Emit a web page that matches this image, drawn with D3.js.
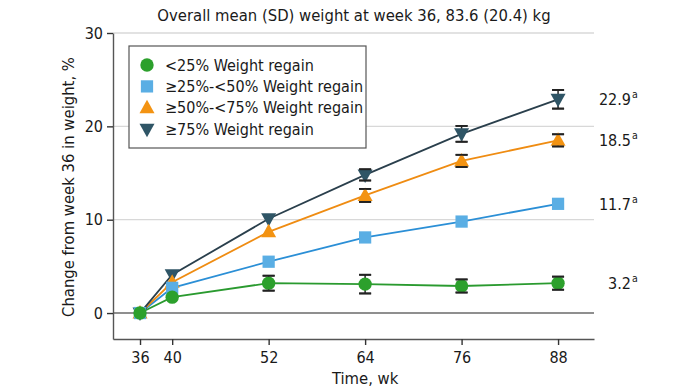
<!DOCTYPE html>
<html><head><meta charset="utf-8">
<script src="https://cdn.jsdelivr.net/npm/d3@7"></script>
<style>
body{margin:0;background:#fff;}
svg text{font-family:"Liberation Sans Narrow","DejaVu Sans Condensed","Roboto Condensed",sans-serif;fill:#1a1a1a;}
</style></head>
<body>
<svg id="c" width="689" height="388"></svg>
<script>
const weeks = [36, 40, 52, 64, 76, 88];
const xTicks = [36, 40, 52, 64, 76, 88];
const yTicks = [0, 10, 20, 30];
const seriesNames = ["<25% Weight regain", "≥25%-<50% Weight regain", "≥50%-<75% Weight regain", "≥75% Weight regain"];
const lt25 = [0, 1.7, 3.2, 3.1, 2.9, 3.2];
const lt25Err = [0, 0, 0.8, 1.0, 0.7, 0.7];
const r25to50 = [0, 2.7, 5.5, 8.1, 9.8, 11.7];
const r25to50Err = [0, 0, 0, 0, 0, 0];
const r50to75 = [0, 3.3, 8.7, 12.6, 16.3, 18.5];
const r50to75Err = [0, 0, 0, 0.7, 0.65, 0.65];
const ge75 = [0, 4.1, 10.1, 14.8, 19.2, 22.9];
const ge75Err = [0, 0, 0, 0.6, 0.85, 1.0];
const endLabels = ["3.2", "11.7", "18.5", "22.9"];
const title = "Overall mean (SD) weight at week 36, 83.6 (20.4) kg";
const xTitle = "Time, wk";
const yTitle = "Change from week 36 in weight, %";

const series = [
  {name: seriesNames[0], v: lt25, e: lt25Err, line: "#2a9a2f", fill: "#2ca02c", shape: "circle", label: endLabels[0]},
  {name: seriesNames[1], v: r25to50, e: r25to50Err, line: "#2b8fd6", fill: "#5aaee4", shape: "square", label: endLabels[1]},
  {name: seriesNames[2], v: r50to75, e: r50to75Err, line: "#ef8c12", fill: "#f39312", shape: "up", label: endLabels[2]},
  {name: seriesNames[3], v: ge75, e: ge75Err, line: "#2a3f4c", fill: "#2f5566", shape: "down", label: endLabels[3]}
];

const svg = d3.select("#c");
const x = d3.scaleLinear().domain([32.64, 92.47]).range([113, 594]);
const y = d3.scaleLinear().domain([-2.78, 30]).range([339, 33]);

// gridlines
svg.append("g").selectAll("line").data(yTicks.filter(d => d !== 0)).join("line")
  .attr("x1", x.range()[0]).attr("x2", x.range()[1])
  .attr("y1", d => y(d)).attr("y2", d => y(d))
  .attr("stroke", "#d8d8d8").attr("stroke-width", 1.3);
svg.append("line").attr("x1", x.range()[0]).attr("x2", x.range()[1])
  .attr("y1", y(0)).attr("y2", y(0)).attr("stroke", "#6a6a6a").attr("stroke-width", 1.4);

// axes
const xAxis = svg.append("g").attr("transform", `translate(0,${y.range()[0]})`)
  .call(d3.axisBottom(x).tickValues(xTicks).tickSize(6).tickPadding(4).tickSizeOuter(0));
const yAxis = svg.append("g").attr("transform", `translate(${x.range()[0]},0)`)
  .call(d3.axisLeft(y).tickValues(yTicks).tickSize(6).tickPadding(4).tickSizeOuter(0));
[xAxis, yAxis].forEach(a => {
  a.select(".domain").attr("stroke", "#555").attr("stroke-width", 1.4);
  a.selectAll(".tick line").attr("stroke", "#333").attr("stroke-width", 1.4);
  a.selectAll(".tick text").attr("font-size", 16).attr("fill", "#1a1a1a")
    .style("font-family", '"Liberation Sans Narrow","DejaVu Sans Condensed",sans-serif');
});
xAxis.selectAll(".tick text").attr("dy", "0.9em");

// titles
svg.append("text").attr("x", 354).attr("y", 21).attr("text-anchor", "middle").attr("font-size", 16.5).text(title);
svg.append("text").attr("x", x(64)).attr("y", 384).attr("text-anchor", "middle").attr("font-size", 16.5).text(xTitle);
svg.append("text").attr("transform", "translate(74,187) rotate(-90)").attr("text-anchor", "middle").attr("font-size", 16.5).text(yTitle);

function symbolPath(shape, cx, cy) {
  if (shape === "circle") return d3.symbol(d3.symbolCircle, 140)();
  if (shape === "square") return d3.symbol(d3.symbolSquare, 150)();
  if (shape === "up") return "M0,-8L7.5,5.5L-7.5,5.5Z";
  return "M0,8L7.5,-5.5L-7.5,-5.5Z";
}

const line = d3.line().x((d, i) => x(weeks[i])).y(d => y(d));
series.forEach(s => {
  svg.append("path").attr("d", line(s.v)).attr("fill", "none").attr("stroke", s.line).attr("stroke-width", 1.8);
});
series.forEach(s => {
  const g = svg.append("g");
  s.v.forEach((v, i) => {
    const e = s.e[i];
    if (e > 0) {
      const cx = x(weeks[i]);
      g.append("line").attr("x1", cx).attr("x2", cx).attr("y1", y(v - e)).attr("y2", y(v + e)).attr("stroke", "#222").attr("stroke-width", 1.5);
      [v - e, v + e].forEach(b => g.append("line").attr("x1", cx - 6).attr("x2", cx + 6).attr("y1", y(b)).attr("y2", y(b)).attr("stroke", "#222").attr("stroke-width", 1.8));
    }
  });
});
// markers (draw later series first so green on top at origin)
series.slice().reverse().forEach(s => {
  svg.append("g").selectAll("path").data(s.v).join("path")
    .attr("d", () => symbolPath(s.shape))
    .attr("transform", (d, i) => `translate(${x(weeks[i])},${y(d)})`)
    .attr("fill", s.fill);
});
// error bars again on top for visibility of caps
series.forEach(s => {
  s.v.forEach((v, i) => {
    const e = s.e[i];
    if (e > 0) {
      const cx = x(weeks[i]);
      [v - e, v + e].forEach(b => svg.append("line").attr("x1", cx - 6).attr("x2", cx + 6).attr("y1", y(b)).attr("y2", y(b)).attr("stroke", "#222").attr("stroke-width", 1.8));
    }
  });
});

// end labels
series.forEach(s => {
  const t = svg.append("text").attr("x", 631).attr("y", y(s.v[s.v.length - 1]) + 6).attr("text-anchor", "end").attr("font-size", 16).text(s.label);
  svg.append("text").attr("x", 632).attr("y", y(s.v[s.v.length - 1]) - 1).attr("font-size", 10.5).text("a");
});

// legend
const lg = svg.append("g");
lg.append("rect").attr("x", 129).attr("y", 46).attr("width", 237).attr("height", 102)
  .attr("fill", "#fff").attr("stroke", "#555").attr("stroke-width", 1.2);
series.forEach((s, i) => {
  const cy = 65 + i * 21.4;
  lg.append("path").attr("d", symbolPath(s.shape)).attr("transform", `translate(147,${cy})`).attr("fill", s.fill);
  lg.append("text").attr("x", 165).attr("y", cy + 5.5).attr("font-size", 16).text(s.name);
});
</script>
</body></html>
